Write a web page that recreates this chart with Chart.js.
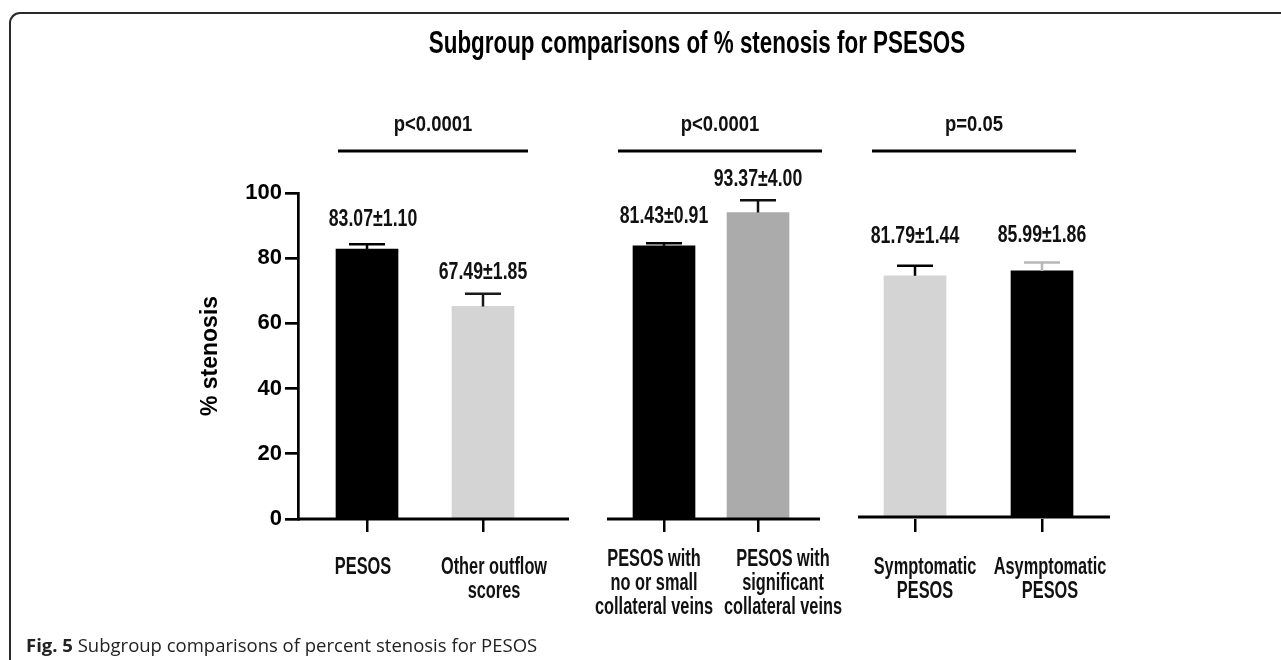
<!DOCTYPE html>
<html>
<head>
<meta charset="utf-8">
<script src="https://cdn.jsdelivr.net/npm/chart.js@4/dist/chart.umd.min.js"></script>
<style>
  body { margin: 0; background: #fff; }
  #wrap { position: relative; width: 1281px; height: 660px; overflow: hidden; }
  #frame { position: absolute; left: 9px; top: 12px; width: 1320px; height: 720px;
           border-left: 2px solid #2a2a2a; border-top: 2px solid #2a2a2a; border-top-left-radius: 11px; }
  #caption { position: absolute; left: 26px; top: 634px; font: 18.5px "Open Sans", sans-serif; line-height: 22px; color: #222; }
  canvas { position: absolute; left: 0; top: 0; }
</style>
</head>
<body>
<div id="wrap">
  <div id="frame"></div>
  <canvas id="chart" width="1281" height="660"></canvas>
  <div id="caption"><b>Fig. 5</b> Subgroup comparisons of percent stenosis for PESOS</div>
</div>
<script>
// Datos (altura dibujada de cada barra y su error superior).
const categories = [
  ["PESOS"],
  ["Other outflow", "scores"],
  ["PESOS with", "no or small", "collateral veins"],
  ["PESOS with", "significant", "collateral veins"],
  ["Symptomatic", "PESOS"],
  ["Asymptomatic", "PESOS"]
];
const meanStenosis = [82.8, 65.2, 83.8, 94.0, 74.6, 76.1];
const errUpper = [1.5, 3.9, 0.8, 3.8, 3.1, 2.6];
const valueLabels = ["83.07±1.10", "67.49±1.85", "81.43±0.91", "93.37±4.00", "81.79±1.44", "85.99±1.86"];
const groupP = ["p<0.0001", "p<0.0001", "p=0.05"];
const yTicks = [0, 20, 40, 60, 80, 100];
const chartTitle = "Subgroup comparisons of % stenosis for PSESOS";

// Disposición (unidades del eje x, 0 = eje y) y ajustes de texto en px.
const xPos = [69, 185, 366, 460, 617, 744];
const labelShift = [-4, 11, -10, 25, 10, 8];
const valueShift = [6, 0, 0, 0, 0, 0];
const valueGap = [18, 15, 20, 14, 23, 20];
const axisSpans = [[0, 271], [309, 522], [560, 812]];
const axisLift = [0, 0, 2];
const pSpans = [[40, 230], [320, 524], [574, 778]];
const barColors = ["#000000", "#d4d4d4", "#000000", "#ababab", "#d4d4d4", "#000000"];
const errColors = ["#000000", "#1a1a1a", "#000000", "#111111", "#000000", "#b8b8b8"];

const SANS = '"Liberation Sans", Arial, sans-serif';

// Texto estrecho: Arial negrita comprimida en horizontal (no hay fuente condensada).
function textoEstrecho(ctx, txt, x, y, size, sx) {
  ctx.save();
  ctx.font = "bold " + size + "px " + SANS;
  ctx.translate(x, y);
  ctx.scale(sx, 1);
  ctx.fillText(txt, 0, 0);
  ctx.restore();
}

// Ejes x partidos, barras de error, etiquetas de valor, p y categorías.
const groupMarks = {
  id: "groupMarks",
  afterDatasetsDraw(chart) {
    const { ctx, scales: { x, y } } = chart;
    const bars = chart.getDatasetMeta(0).data;
    ctx.save();
    ctx.strokeStyle = "#000";
    ctx.lineWidth = 3;
    axisSpans.forEach(([a, b], g) => {
      const yy = y.getPixelForValue(0) - axisLift[g];
      ctx.beginPath();
      ctx.moveTo(x.getPixelForValue(a), yy);
      ctx.lineTo(x.getPixelForValue(b), yy);
      ctx.stroke();
    });

    ctx.textAlign = "center";
    ctx.textBaseline = "alphabetic";
    ctx.fillStyle = "#111";
    bars.forEach((bar, i) => {
      const top = y.getPixelForValue(meanStenosis[i] + errUpper[i]);
      ctx.strokeStyle = errColors[i];
      ctx.lineWidth = 2.5;
      ctx.beginPath();
      ctx.moveTo(bar.x, bar.y);
      ctx.lineTo(bar.x, top);
      ctx.moveTo(bar.x - 18, top);
      ctx.lineTo(bar.x + 18, top);
      ctx.stroke();
      textoEstrecho(ctx, valueLabels[i], bar.x + valueShift[i], top - valueGap[i], 23, 0.77);

      const lines = categories[i];
      const y0 = y.getPixelForValue(0) + (lines.length > 2 ? 47 : 55);
      lines.forEach((ln, k) => textoEstrecho(ctx, ln, bar.x + labelShift[i], y0 + k * 24, 23, 0.71));
    });

    pSpans.forEach(([a, b], g) => {
      const x0 = x.getPixelForValue(a), x1 = x.getPixelForValue(b);
      textoEstrecho(ctx, groupP[g], (x0 + x1) / 2, 131, 22, 0.84);
      ctx.strokeStyle = "#000";
      ctx.lineWidth = 3;
      ctx.beginPath();
      ctx.moveTo(x0, 151);
      ctx.lineTo(x1, 151);
      ctx.stroke();
    });

    ctx.fillStyle = "#000";
    textoEstrecho(ctx, chartTitle, (x.left + x.right) / 2 - 7, 53, 32, 0.7);
    ctx.restore();
  }
};

new Chart(document.getElementById("chart"), {
  type: "bar",
  data: {
    datasets: [{
      data: meanStenosis.map((v, i) => ({ x: xPos[i], y: v })),
      backgroundColor: barColors,
      borderWidth: 0,
      barThickness: 62
    }]
  },
  options: {
    responsive: false,
    animation: false,
    layout: { padding: { left: 190, right: 171, top: 193, bottom: 31 } },
    plugins: {
      legend: { display: false },
      tooltip: { enabled: false }
    },
    scales: {
      x: {
        type: "linear",
        offset: false,
        min: 0,
        max: 812,
        afterBuildTicks: s => { s.ticks = xPos.map(v => ({ value: v })); },
        afterFit: s => { s.height = 110; },
        ticks: { display: false },
        grid: { offset: false, drawOnChartArea: false, tickLength: 13, lineWidth: 2.5, color: "#000" },
        border: { display: false }
      },
      y: {
        min: 0,
        max: 100,
        afterBuildTicks: s => { s.ticks = yTicks.map(v => ({ value: v })); },
        afterFit: s => { s.width = 108; },
        ticks: {
          color: "#000",
          padding: 3,
          font: { family: SANS, size: 22, weight: "bold" }
        },
        grid: { drawOnChartArea: false, tickLength: 13, lineWidth: 2.7, color: "#000" },
        border: { color: "#000", width: 2.7 },
        title: {
          display: true,
          text: "% stenosis",
          color: "#000",
          padding: { top: 7, bottom: 0 },
          font: { family: SANS, size: 23, weight: "bold" }
        }
      }
    }
  },
  plugins: [groupMarks]
});
</script>
</body>
</html>
